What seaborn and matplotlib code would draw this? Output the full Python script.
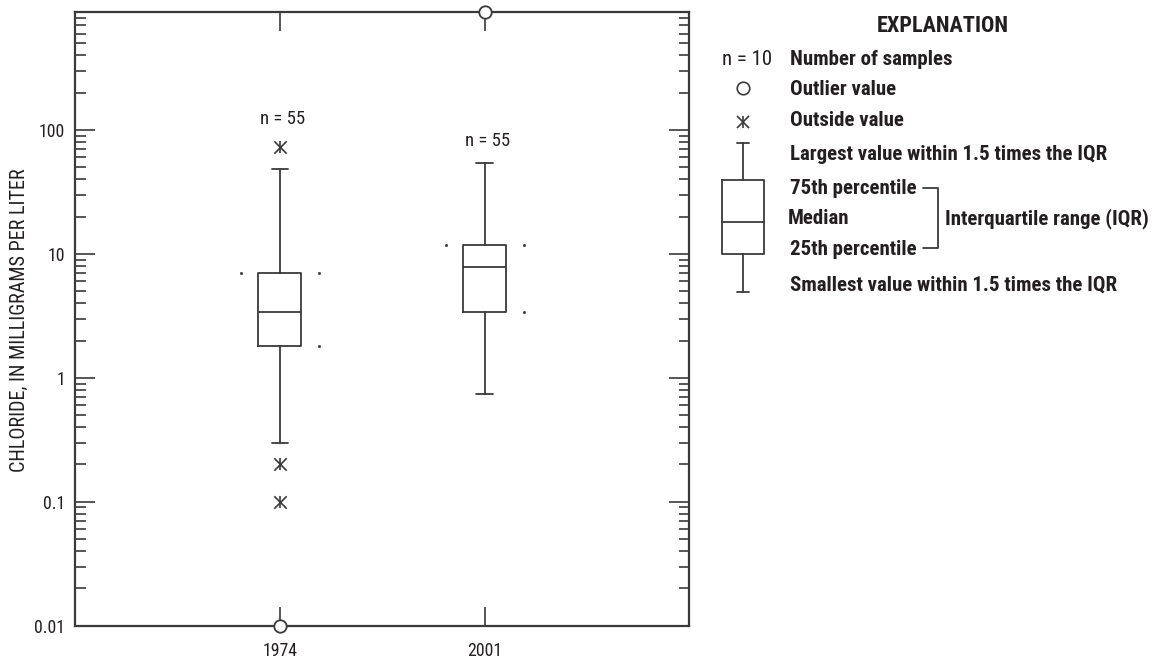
import numpy as np
import pandas as pd
import matplotlib
matplotlib.use("Agg")
import matplotlib.pyplot as plt
import seaborn as sns
from matplotlib import font_manager
from matplotlib.ticker import FixedLocator, LogLocator, NullFormatter

# Values (mg/L, log scale)
YEARS = ["1974", "2001"]
N_SAMPLES = [55, 55]
WHISKER_LOW = [0.30, 0.74]
Q1 = [1.80, 3.37]
MEDIAN = [3.40, 7.8]
Q3 = [7.07, 11.8]
WHISKER_HIGH = [48.6, 53.7]
OUTSIDE_YEAR = ["1974", "1974", "1974"]
OUTSIDE_VALUE = [73.0, 0.20, 0.10]
OUTLIER_YEAR = ["1974", "2001"]
OUTLIER_VALUE = [0.01, 900.0]
Y_TICKS = [0.01, 0.1, 1, 10, 100]
Y_TICK_LABELS = ["0.01", "0.1", "1", "10", "100"]

sns.set_style("white")
names = {f.name for f in font_manager.fontManager.ttflist}
FONT = next((n for n in ["Roboto Condensed", "Archivo Narrow", "PT Sans Narrow",
                         "Fira Sans Condensed", "Barlow Semi Condensed", "DejaVu Sans"]
             if n in names), "DejaVu Sans")
plt.rcParams["font.family"] = [FONT, "DejaVu Sans"]

INK = "#231f20"
LINE = "#3a3a3a"
W, H = 1164, 665
PX = 72 / 100  # points per pixel

fig = plt.figure(figsize=(W / 100, H / 100), dpi=100)
ax = fig.add_axes([75.3 / W, 1 - 625.7 / H, (689.3 - 75.3) / W, (625.7 - 11.7) / H])

pos = np.arange(len(YEARS))
stats = [
    dict(label=YEARS[i], whislo=WHISKER_LOW[i], q1=Q1[i], med=MEDIAN[i],
         q3=Q3[i], whishi=WHISKER_HIGH[i], fliers=[])
    for i in range(len(YEARS))
]
lp = dict(color=LINE, linewidth=1.3)
ax.bxp(stats, positions=pos, widths=0.21, capwidths=0.08, showfliers=False,
       boxprops=lp, medianprops=lp, whiskerprops=lp, capprops=lp)

# outside values (asterisk = x + vertical bar)
out = pd.DataFrame({"x": [YEARS.index(y) for y in OUTSIDE_YEAR], "y": OUTSIDE_VALUE})
sns.scatterplot(data=out, x="x", y="y", marker="x", s=80, color=LINE, linewidth=1.2, ax=ax, zorder=4)
sns.scatterplot(data=out, x="x", y="y", marker="|", s=80, color=LINE, linewidth=1.2, ax=ax, zorder=4)

# outlier values (open circles, plotted at the axis limits)
olr = pd.DataFrame({"x": [YEARS.index(y) for y in OUTLIER_YEAR], "y": OUTLIER_VALUE})
sns.scatterplot(data=olr, x="x", y="y", marker="o", s=80, facecolor="white",
                edgecolor=LINE, linewidth=1.3, ax=ax, zorder=5, clip_on=False)

# tiny marks next to the quartiles
for i in range(len(YEARS)):
    ax.plot([pos[i] - 0.19, pos[i] + 0.19, pos[i] + 0.19], [Q3[i], Q3[i], Q1[i]],
            ls="none", marker="s", ms=1.0, color=LINE)

# sample counts
for i in range(len(YEARS)):
    tops = [v for y, v in zip(OUTSIDE_YEAR, OUTSIDE_VALUE) if y == YEARS[i]]
    top = max([WHISKER_HIGH[i]] + tops)
    off = 23 if top > WHISKER_HIGH[i] else 17
    ax.annotate(f"n = {N_SAMPLES[i]}", (pos[i], top), xytext=(3 * PX, off * PX),
                textcoords="offset points", ha="center", va="baseline",
                fontsize=13.5, color=INK)

ax.set_yscale("log")
ax.set_ylim(0.01, 900)
ax.set_xlim(-1, 2)
ax.yaxis.set_major_locator(FixedLocator(Y_TICKS))
ax.set_yticklabels(Y_TICK_LABELS)
ax.yaxis.set_minor_locator(LogLocator(base=10, subs=np.arange(2, 10)))
ax.yaxis.set_minor_formatter(NullFormatter())
ax.set_xticks(pos, YEARS)
ax.tick_params(axis="y", which="major", direction="in", length=20 * PX, width=1.2,
               left=True, right=True, pad=7.2, labelsize=12.8, colors=LINE, labelcolor=INK)
ax.tick_params(axis="y", which="minor", direction="in", length=10.5 * PX, width=1.2,
               left=True, right=True, colors=LINE)
ax.tick_params(axis="x", direction="in", length=19 * PX, width=1.2, top=True, bottom=True,
               pad=11.5, labelsize=12.8, colors=LINE, labelcolor=INK)
for s in ax.spines.values():
    s.set_color(LINE)
    s.set_linewidth(1.6)
ax.set_xlabel("")
ax.set_ylabel("")
fig.text(25 / W, 1 - 320 / H, "CHLORIDE, IN MILLIGRAMS PER LITER", rotation=90,
         rotation_mode="anchor", ha="center", va="baseline", fontsize=14.5, color=INK)

# explanation (legend) drawn in pixel space
lg = fig.add_axes([0, 0, 1, 1])
lg.set_xlim(0, W)
lg.set_ylim(H, 0)
lg.axis("off")
lg.patch.set_alpha(0)

lg.text(943, 31.7, "EXPLANATION", ha="center", va="baseline", fontsize=16,
        fontweight="bold", color=INK)
lg.text(722, 65, "n = 10", ha="left", va="baseline", fontsize=15, color=INK)
rows = [
    (790, 65, "Number of samples"),
    (790, 95, "Outlier value"),
    (790, 126.5, "Outside value"),
    (790, 159.5, "Largest value within 1.5 times the IQR"),
    (790, 193.5, "75th percentile"),
    (787.7, 224, "Median"),
    (790, 255, "25th percentile"),
    (790, 291, "Smallest value within 1.5 times the IQR"),
    (945, 224, "Interquartile range (IQR)"),
]
for x, y, t in rows:
    lg.text(x, y, t, ha="left", va="baseline", fontsize=15, fontweight="bold", color=INK)

cx = 742.7
lg.plot([cx], [88.3], marker="o", ms=9, mfc="white", mec=LINE, mew=1.2)
lg.plot([cx], [121.7], marker="x", ms=8.5, color=LINE, mew=1.2)
lg.plot([cx], [121.7], marker="|", ms=8.5, color=LINE, mew=1.2)
lg.plot([721.7, 764, 764, 721.7, 721.7], [180, 180, 254, 254, 180], color=LINE, lw=1.3)
lg.plot([721.7, 764], [221.7, 221.7], color=LINE, lw=1.3)
lg.plot([cx, cx], [143.3, 180], color=LINE, lw=1.3)
lg.plot([cx, cx], [254, 291.7], color=LINE, lw=1.3)
lg.plot([736.7, 749], [143.3, 143.3], color=LINE, lw=1.3)
lg.plot([736.7, 749], [291.7, 291.7], color=LINE, lw=1.3)
lg.plot([923.3, 938.3, 938.3, 923.3], [188.3, 188.3, 248.3, 248.3], color=LINE, lw=1.3)

fig.savefig("out.png", dpi=100)
